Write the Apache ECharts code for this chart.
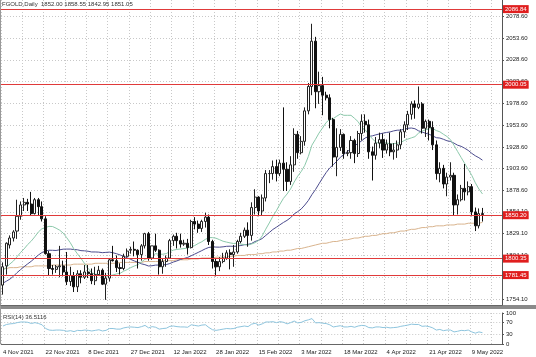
<!DOCTYPE html>
<html><head><meta charset="utf-8">
<script src="https://cdn.jsdelivr.net/npm/echarts@6/dist/echarts.min.js"></script>
<style>html,body{margin:0;padding:0;background:#fff}#c{width:536px;height:357px}</style>
</head><body><div id="c"></div>
<script>
const dates = ['4 Nov 2021','5 Nov 2021','8 Nov 2021','9 Nov 2021','10 Nov 2021','11 Nov 2021','12 Nov 2021','15 Nov 2021','16 Nov 2021','17 Nov 2021','18 Nov 2021','19 Nov 2021','22 Nov 2021','23 Nov 2021','24 Nov 2021','25 Nov 2021','26 Nov 2021','29 Nov 2021','30 Nov 2021',
'1 Dec 2021','2 Dec 2021','3 Dec 2021','6 Dec 2021','7 Dec 2021','8 Dec 2021','9 Dec 2021','10 Dec 2021','13 Dec 2021','14 Dec 2021','15 Dec 2021','16 Dec 2021','17 Dec 2021','20 Dec 2021','21 Dec 2021','22 Dec 2021','23 Dec 2021','27 Dec 2021','28 Dec 2021','29 Dec 2021','30 Dec 2021','31 Dec 2021',
'3 Jan 2022','4 Jan 2022','5 Jan 2022','6 Jan 2022','7 Jan 2022','10 Jan 2022','11 Jan 2022','12 Jan 2022','13 Jan 2022','14 Jan 2022','17 Jan 2022','18 Jan 2022','19 Jan 2022','20 Jan 2022','21 Jan 2022','24 Jan 2022','25 Jan 2022','26 Jan 2022','27 Jan 2022','28 Jan 2022','31 Jan 2022',
'1 Feb 2022','2 Feb 2022','3 Feb 2022','4 Feb 2022','7 Feb 2022','8 Feb 2022','9 Feb 2022','10 Feb 2022','11 Feb 2022','14 Feb 2022','15 Feb 2022','16 Feb 2022','17 Feb 2022','18 Feb 2022','21 Feb 2022','22 Feb 2022','23 Feb 2022','24 Feb 2022','25 Feb 2022','28 Feb 2022',
'1 Mar 2022','2 Mar 2022','3 Mar 2022','4 Mar 2022','7 Mar 2022','8 Mar 2022','9 Mar 2022','10 Mar 2022','11 Mar 2022','13 Mar 2022','14 Mar 2022','15 Mar 2022','16 Mar 2022','17 Mar 2022','18 Mar 2022','20 Mar 2022','21 Mar 2022','22 Mar 2022','23 Mar 2022','24 Mar 2022','25 Mar 2022','28 Mar 2022','29 Mar 2022','30 Mar 2022','31 Mar 2022',
'1 Apr 2022','4 Apr 2022','5 Apr 2022','6 Apr 2022','7 Apr 2022','8 Apr 2022','11 Apr 2022','12 Apr 2022','13 Apr 2022','14 Apr 2022','18 Apr 2022','19 Apr 2022','20 Apr 2022','21 Apr 2022','22 Apr 2022','25 Apr 2022','26 Apr 2022','27 Apr 2022','28 Apr 2022','29 Apr 2022',
'2 May 2022','3 May 2022','4 May 2022','5 May 2022','6 May 2022','9 May 2022','10 May 2022','11 May 2022','12 May 2022'];

const opens = [1770,1792,1816,1824,1832,1849,1862,1865,1863,1852,1868,1860,1846,1806,1789,1788,1791,1792,1785,
1774,1781,1768,1783,1779,1785,1783,1775,1782,1787,1771,1778,1799,1798,1790,1789,1803,1810,1811,1810,1805,1815,
1829,1801,1815,1810,1791,1797,1801,1821,1826,1821,1817,1818,1813,1843,1840,1835,1843,1848,1820,1797,1791,
1797,1801,1807,1805,1808,1820,1826,1833,1827,1859,1871,1855,1870,1898,1898,1906,1898,1910,1903,1889,
1908,1943,1922,1935,1970,1998,2050,1992,1999,1988,1985,1960,1917,1928,1943,1921,1922,1936,1921,1944,1958,1954,1923,1919,1933,
1937,1925,1932,1923,1925,1931,1946,1954,1966,1978,1974,1978,1950,1958,1951,1931,1898,1904,1886,1894,
1896,1862,1868,1881,1877,1883,1854,1838,1852.00];
const highs = [1796,1819,1827,1833,1868,1866,1870,1869,1877,1870,1870,1866,1849,1809,1793,1793,1815,1798,1808,
1791,1785,1787,1787,1793,1793,1789,1791,1792,1789,1784,1800,1815,1804,1795,1806,1812,1814,1820,1811,1817,1830,
1831,1815,1829,1811,1800,1804,1823,1828,1830,1829,1822,1823,1845,1848,1844,1845,1853,1851,1822,1800,1802,
1807,1810,1811,1816,1822,1830,1836,1842,1865,1880,1872,1874,1902,1902,1913,1914,1914,1974,1911,1918,
1950,1947,1941,1974,2002,2070,2055,2015,2009,1992,1989,1962,1950,1949,1944,1925,1941,1938,1947,1966,1966,1960,1929,1940,1945,
1944,1937,1945,1933,1936,1949,1958,1970,1981,1982,1998,1980,1960,1960,1958,1936,1911,1908,1899,1911,
1899,1874,1885,1909,1889,1886,1859,1858,1858.55];
const lows = [1759,1782,1812,1820,1823,1845,1855,1855,1850,1851,1850,1843,1805,1781,1782,1784,1779,1780,1770,
1769,1762,1762,1772,1777,1778,1771,1770,1781,1770,1753,1774,1797,1785,1782,1787,1802,1806,1803,1789,1798,1812,
1798,1799,1808,1782,1783,1791,1800,1815,1812,1813,1815,1805,1812,1834,1830,1831,1836,1816,1789,1780,1786,
1795,1799,1788,1791,1806,1818,1824,1814,1821,1851,1849,1850,1866,1887,1891,1889,1895,1878,1878,1885,
1900,1915,1920,1930,1966,1988,1973,1978,1965,1982,1950,1906,1895,1924,1915,1918,1915,1910,1917,1936,1945,1915,1890,1914,1927,
1916,1921,1918,1914,1916,1926,1939,1948,1960,1961,1972,1944,1940,1936,1925,1891,1888,1881,1872,1890,
1850,1851,1866,1867,1873,1849,1832,1835,1842.95];
const closes = [1791,1818,1824,1831,1849,1862,1865,1863,1852,1868,1860,1846,1806,1789,1788,1791,1792,1785,1774,
1781,1768,1783,1779,1785,1783,1775,1782,1787,1771,1778,1799,1798,1790,1789,1803,1809,1811,1810,1805,1815,1829,
1801,1815,1810,1791,1797,1801,1821,1826,1821,1817,1818,1813,1843,1840,1835,1843,1848,1820,1797,1791,1797,
1801,1807,1805,1808,1820,1826,1833,1827,1859,1871,1855,1870,1898,1898,1906,1898,1910,1903,1889,1908,
1943,1922,1935,1970,1998,2050,1992,1999,1988,1985,1960,1917,1928,1943,1921,1922,1936,1921,1944,1958,1954,1923,1919,1933,1937,
1925,1932,1923,1925,1931,1946,1954,1966,1978,1974,1978,1950,1958,1951,1931,1898,1904,1886,1894,1896,
1862,1868,1881,1877,1883,1854,1838,1852,1851.05];

// moving averages (green = short, navy = medium, tan = long)
const maShort = [1786.5,1790.3,1794.2,1797.6,1802.4,1807.4,1811.5,1816.5,1820.4,1825.4,1830.9,1834.6,1836.0,1837.4,1837.2,1835.3,1833.0,1829.7,1824.4,
1818.6,1811.6,1805.9,1800.7,1794.8,1789.3,1784.2,1782.5,1782.4,1781.1,1780.2,1780.7,1781.6,1782.8,1783.4,1785.9,1787.7,1790.0,1791.8,1793.4,1796.2,1799.6,
1800.6,1803.7,1806.0,1805.4,1805.4,1806.1,1808.4,1810.1,1810.9,1811.4,1811.9,1812.5,1814.5,1815.3,1817.7,1819.7,1822.4,1824.5,1824.5,1823.8,1822.1,
1820.3,1819.3,1818.4,1817.7,1818.2,1817.0,1816.5,1815.9,1817.1,1818.7,1821.2,1826.4,1834.1,1841.3,1848.8,1855.3,1862.8,1869.6,1874.5,1880.4,
1888.2,1895.0,1900.4,1907.5,1917.7,1930.6,1937.3,1944.5,1950.4,1956.6,1960.1,1961.1,1963.9,1966.4,1964.9,1964.9,1964.9,1961.4,1957.6,1951.0,1948.3,1942.9,1937.9,1934.2,1932.6,
1933.1,1933.4,1932.0,1932.3,1932.9,1933.6,1936.0,1937.6,1939.0,1940.4,1944.4,1946.6,1948.4,1949.4,1949.8,1947.4,1946.0,1943.2,1940.6,1937.0,
1930.4,1923.4,1916.5,1909.6,1902.8,1895.9,1887.4,1880.3,1874.6];
const maMid = [1772.1,1774.4,1776.8,1780.1,1784.2,1787.7,1791.1,1794.3,1797.3,1800.9,1804.4,1807.3,1809.1,1810.0,1809.9,1809.7,1810.5,1811.2,1811.3,
1811.3,1810.8,1810.5,1809.5,1809.3,1808.8,1808.0,1808.0,1807.8,1807.2,1807.5,1807.8,1807.1,1806.0,1804.6,1803.1,1801.3,1799.5,1797.7,1796.2,1794.4,1793.4,
1791.9,1792.2,1792.9,1793.0,1793.2,1793.5,1794.7,1796.4,1797.7,1799.4,1800.5,1801.7,1803.6,1805.5,1807.5,1809.5,1811.6,1813.2,1813.8,1813.6,1813.5,
1813.9,1814.5,1814.6,1814.5,1814.8,1815.4,1816.3,1816.7,1817.7,1820.0,1821.4,1823.4,1826.9,1830.3,1833.8,1836.4,1839.2,1841.9,1844.3,1847.3,
1851.6,1854.3,1857.4,1861.9,1867.1,1873.8,1879.6,1886.3,1892.9,1899.1,1904.4,1908.1,1912.2,1916.7,1920.1,1923.3,1926.7,1929.8,1932.7,1935.6,1938.9,1940.6,1941.3,1942.5,1943.5,
1944.4,1945.2,1945.8,1947.0,1947.8,1947.9,1949.0,1950.0,1950.3,1949.5,1947.1,1945.7,1944.3,1943.1,1941.3,1939.2,1938.8,1937.4,1935.7,1934.9,
1932.9,1930.6,1929.3,1927.1,1924.6,1921.2,1918.4,1916.2,1913.4];
const maLong = [1789,1789,1790,1790,1790,1791,1791,1791,1791,1792,1792,1792,1792,1792,1793,1793,1793,1793,1793,
1793,1794,1794,1794,1794,1794,1794,1795,1795,1795,1795,1795,1795,1795,1796,1796,1796,1796,1796,1796,1796,1797,
1797,1797,1797,1797,1798,1798,1798,1798,1799,1799,1799,1799,1800,1800,1800,1801,1801,1801,1801,1802,1802,
1802,1803,1803,1803,1804,1804,1804,1805,1805,1805,1806,1806,1807,1807,1808,1808,1809,1809,1810,1810,
1811,1812,1812,1813,1814,1815,1816,1817,1818,1818,1819,1820,1820,1821,1822,1822,1823,1824,1824,1825,1826,1826,1827,1827,1828,
1829,1829,1830,1830,1831,1832,1832,1833,1834,1834,1835,1836,1836,1837,1837,1838,1838,1838,1839,1839,
1839,1840,1840,1840,1841,1841,1841,1841,1842];
const rsi = [58,63,65,66,69,71,71,70,66,69,66,62,50,45,44,45,45,44,41,
43,40,44,43,45,44,42,44,46,42,44,50,50,48,48,52,54,55,54,53,56,60,
52,56,54,48,50,51,57,58,56,55,55,54,62,60,58,61,62,53,46,44,46,
48,50,49,50,54,56,58,56,64,67,61,65,71,71,72,69,72,70,65,69,
74,68,70,75,78,82,68,69,67,66,62,55,57,59,55,55,57,54,58,60,59,53,52,55,55,
53,54,52,53,54,57,59,61,64,63,63,57,58,56,52,45,47,43,45,45,
39,41,44,43,45,39,35,39,36.5];

const priceTicks = [2078.60,2053.60,2028.60,2003.60,1978.60,1953.60,1928.60,1903.60,1878.60,1854.10,1829.10,1804.10,1779.10,1754.10];
const levels = [2086.84,2000.05,1850.20,1800.35,1781.45];
const rsiTicks = [0,30,70,100];
const headerText = 'FGOLD,Daily  1852.00 1858.55 1842.95 1851.05';
const rsiText = 'RSI(14) 36.5116';

const PAD = 5;
const cats = dates.concat(Array(PAD).fill(''));
const candle = dates.map((d,i)=>[opens[i],closes[i],lows[i],highs[i]]);
const FONT = 'Liberation Sans';
const grid = {color:'#c8c8c8', type:[1,2], width:1};

const chart = echarts.init(document.getElementById('c'), null, {renderer:'canvas'});
chart.setOption({
  animation:false,
  backgroundColor:'#fff',
  textStyle:{fontFamily:FONT},
  grid:[
    {left:1, right:34, top:0, height:305},
    {left:1, right:34, top:313, height:31}
  ],
  xAxis:[
    {type:'category', gridIndex:0, data:cats, boundaryGap:true,
     axisLine:{show:true, lineStyle:{color:'#666', width:1}}, axisTick:{show:false}, axisLabel:{show:false},
     splitLine:{show:true, interval:5, lineStyle:grid}},
    {type:'category', gridIndex:1, data:cats, boundaryGap:true,
     axisLine:{show:true, lineStyle:{color:'#666', width:1}}, axisTick:{show:false},
     axisLabel:{show:true, interval:11, align:'left', fontSize:6, color:'#222', margin:5, fontFamily:FONT},
     splitLine:{show:true, interval:5, lineStyle:grid}}
  ],
  yAxis:[
    {type:'value', gridIndex:0, position:'right', min:1747.1, max:2097.3, scale:true,
     axisLine:{show:true, lineStyle:{color:'#555', width:1}},
     axisTick:{show:true, length:2, customValues:priceTicks, lineStyle:{color:'#555'}},
     axisLabel:{show:true, customValues:priceTicks, fontSize:6, color:'#222', margin:4, fontFamily:FONT,
       formatter:v=>v.toFixed(2)},
     splitLine:{show:true, lineStyle:grid}},
    {type:'value', gridIndex:1, position:'right', min:0, max:100,
     axisLine:{show:true, lineStyle:{color:'#555', width:1}},
     axisTick:{show:true, length:2, customValues:rsiTicks, lineStyle:{color:'#555'}},
     axisLabel:{show:true, customValues:rsiTicks, fontSize:6, color:'#222', margin:4, fontFamily:FONT},
     splitLine:{show:true, lineStyle:grid}}
  ],
  series:[
    {type:'line', name:'MA long', xAxisIndex:0, yAxisIndex:0, data:maLong, symbol:'none',
     lineStyle:{color:'#d9b48e', width:1}, z:2},
    {type:'line', name:'MA mid', xAxisIndex:0, yAxisIndex:0, data:maMid, symbol:'none',
     lineStyle:{color:'#4c4c8e', width:1}, z:2},
    {type:'line', name:'MA short', xAxisIndex:0, yAxisIndex:0, data:maShort, symbol:'none',
     lineStyle:{color:'#8cc9ab', width:1}, z:2},
    {type:'candlestick', xAxisIndex:0, yAxisIndex:0, data:candle, barWidth:2.6, z:3,
     itemStyle:{color:'#ffffff', color0:'#111111', borderColor:'#222222', borderColor0:'#111111', borderWidth:1},
     markLine:{silent:true, symbol:'none', animation:false,
       lineStyle:{color:'#e03a3a', width:1, type:'solid'},
       label:{show:true, position:'end', distance:1, formatter:p=>p.value.toFixed(2),
         backgroundColor:'#e01e1e', color:'#fff', fontSize:6, padding:[1,2,1,2], fontFamily:FONT},
       data:levels.map(v=>({yAxis:v}))}},
    {type:'line', name:'RSI', xAxisIndex:1, yAxisIndex:1, data:rsi, symbol:'none',
     lineStyle:{color:'#8ec5de', width:1}}
  ],
  graphic:[
    {type:'rect', left:0, top:305, shape:{width:536, height:4}, style:{fill:'#8a8a8a'}, silent:true},
    {type:'line', shape:{x1:0.5, y1:0, x2:0.5, y2:344}, style:{stroke:'#999', lineWidth:1}, silent:true},
    {type:'text', left:2, top:1, style:{text:headerText, fontSize:6, fill:'#333', fontFamily:FONT}, z:10},
    {type:'text', left:3, top:314, style:{text:rsiText, fontSize:6, fill:'#333', fontFamily:FONT}, z:10}
  ]
});
</script>
</body></html>
